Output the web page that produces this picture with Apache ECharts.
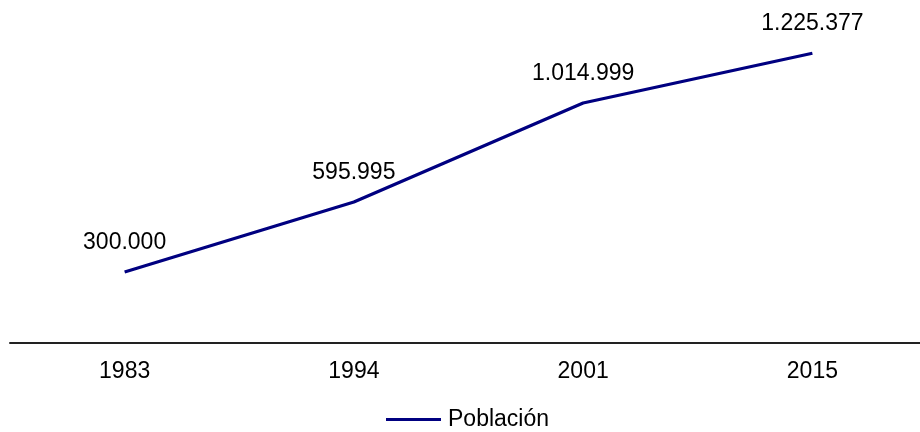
<!DOCTYPE html>
<html>
<head>
<meta charset="utf-8">
<script src="https://cdn.jsdelivr.net/npm/echarts@6/dist/echarts.min.js"></script>
<style>
  html, body { margin: 0; padding: 0; background: #fff; overflow: hidden; }
  body { width: 920px; height: 432px; }
  #main { width: 935px; height: 432px; }
</style>
</head>
<body>
<div id="main"></div>
<script>
var years = ['1983', '1994', '2001', '2015'];
var poblacion = [300000, 595995, 1014999, 1225377];
var seriesName = 'Población';

function miles(v) {
  return String(v).replace(/\B(?=(\d{3})+(?!\d))/g, '.');
}

var chartDom = document.getElementById('main');
var myChart = echarts.init(chartDom);
var option;

// the div is a little wider than the page so the plot runs past the right edge
option = {
  backgroundColor: '#ffffff',
  textStyle: { fontFamily: 'Liberation Sans, Arial, sans-serif' },
  grid: { left: 10, right: 8, top: 12, bottom: 89 },
  legend: {
    data: [seriesName],
    left: 386,
    top: 408,
    padding: 0,
    icon: 'rect',
    itemWidth: 55,
    itemHeight: 3,
    itemStyle: { color: '#000080' },
    textStyle: { fontSize: 23, color: '#000', padding: [6, 0, 0, 2] }
  },
  xAxis: {
    type: 'category',
    data: years,
    boundaryGap: true,
    axisLine: { lineStyle: { color: '#222', width: 2 } },
    axisTick: { show: false },
    axisLabel: { fontSize: 23, color: '#000', margin: 17 }
  },
  yAxis: {
    type: 'value',
    min: 0,
    max: 1400000,
    show: false,
    splitLine: { show: false }
  },
  series: [
    {
      name: seriesName,
      type: 'line',
      data: poblacion,
      symbol: 'circle',
      symbolSize: 0,
      showSymbol: true,
      lineStyle: { color: '#000080', width: 3.2 },
      itemStyle: { color: '#000080' },
      label: {
        show: true,
        position: 'top',
        distance: 18,
        fontSize: 23,
        color: '#000',
        formatter: function (p) { return miles(p.value); }
      }
    }
  ]
};

option && myChart.setOption(option);
</script>
</body>
</html>
